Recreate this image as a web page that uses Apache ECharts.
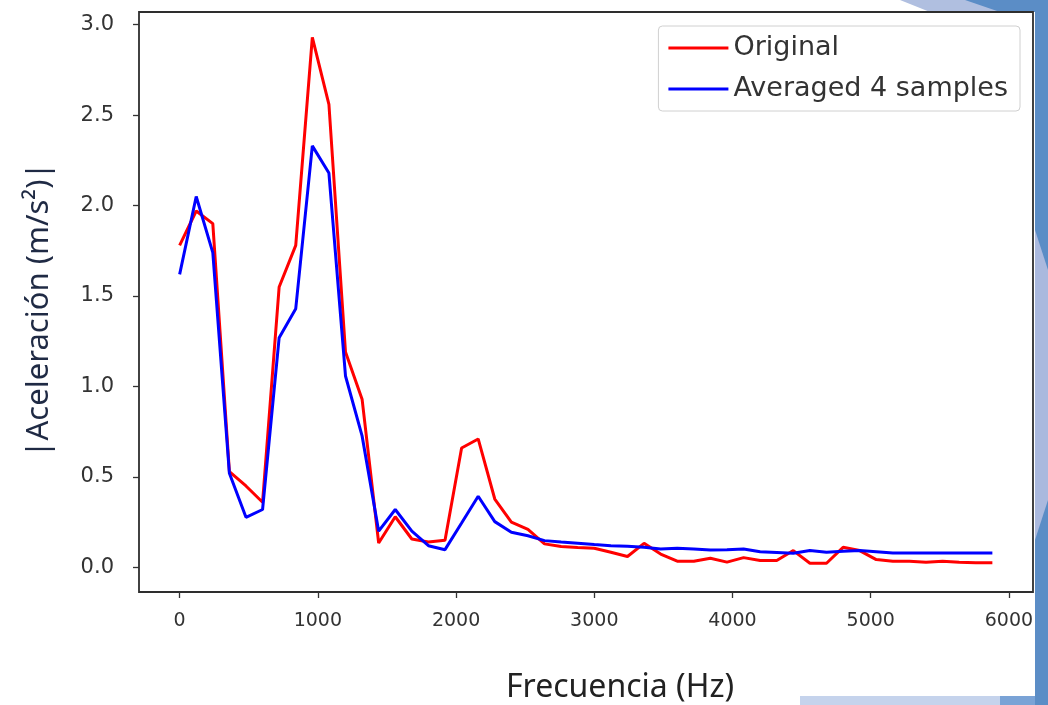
<!DOCTYPE html>
<html>
<head>
<meta charset="utf-8">
<script src="https://cdn.jsdelivr.net/npm/echarts@6/dist/echarts.min.js"></script>
<style>
html,body{margin:0;padding:0;background:#fff;}
#chart{width:1048px;height:705px;}
</style>
</head>
<body>
<div id="chart"></div>
<script>
// ---- data ----
const frequencies = [0,120,240,360,480,600,720,840,960,1080,1200,1320,1440,1560,1680,1800,1920,2040,2160,2280,2400,2520,2640,2760,2880,3000,3120,3240,3360,3480,3600,3720,3840,3960,4080,4200,4320,4440,4560,4680,4800,4920,5040,5160,5280,5400,5520,5640,5760,5880];
const original = [1.78,1.97,1.90,0.53,0.45,0.36,1.55,1.78,2.93,2.56,1.19,0.93,0.135,0.28,0.157,0.14,0.15,0.66,0.71,0.378,0.25,0.21,0.13,0.115,0.11,0.106,0.084,0.06,0.133,0.074,0.034,0.034,0.051,0.029,0.054,0.038,0.038,0.093,0.023,0.023,0.111,0.093,0.043,0.034,0.034,0.029,0.034,0.029,0.025,0.025];
const averaged = [1.62,2.05,1.74,0.52,0.277,0.32,1.27,1.43,2.33,2.18,1.058,0.727,0.20,0.32,0.20,0.12,0.098,0.245,0.393,0.253,0.194,0.175,0.148,0.14,0.133,0.126,0.12,0.117,0.111,0.102,0.106,0.102,0.096,0.098,0.102,0.087,0.083,0.078,0.093,0.084,0.089,0.093,0.087,0.08,0.08,0.08,0.08,0.08,0.08,0.08];
const xTicks = [0,1000,2000,3000,4000,5000,6000];
const yTicks = [0,0.5,1.0,1.5,2.0,2.5,3.0];
const seriesNames = ['Original','Averaged 4 samples'];
const xTitle = 'Frecuencia (Hz)';
const yTitle = '|Aceleración (m/s²)|';

const pairs = (xs, ys) => xs.map((x, i) => [x, ys[i]]);

const chart = echarts.init(document.getElementById('chart'), null, {renderer: 'canvas'});
const tickFont = "'DejaVu Sans', sans-serif";
const titleFont = "'Noto Sans', 'Open Sans', sans-serif";

chart.setOption({
  animation: false,
  backgroundColor: '#ffffff',
  graphic: [
    {type: 'polygon', silent: true, z: -10, shape: {points: [[900,0],[1048,0],[1048,12],[930,12]]}, style: {fill: '#b0bfe0'}},
    {type: 'polygon', silent: true, z: -9, shape: {points: [[965,0],[1048,0],[1048,12],[1000,12]]}, style: {fill: '#5b8dc6'}},
    {type: 'rect', silent: true, z: -10, shape: {x: 1035, y: 0, width: 13, height: 705}, style: {fill: '#5b8dc6'}},
    {type: 'polygon', silent: true, z: -9, shape: {points: [[1035,230],[1048,270],[1048,500],[1035,540]]}, style: {fill: '#aab9de'}},
    {type: 'rect', silent: true, z: -10, shape: {x: 800, y: 696, width: 235, height: 9}, style: {fill: '#c5d3ec'}},
    {type: 'rect', silent: true, z: -9, shape: {x: 1000, y: 696, width: 35, height: 9}, style: {fill: '#7aa3d6'}}
  ],
  grid: {
    left: 139, top: 12, width: 894, height: 580,
    outerBoundsMode: 'none', containLabel: false,
    show: true, borderColor: '#2e2e2e', borderWidth: 1.8, backgroundColor: '#ffffff'
  },
  legend: {
    data: seriesNames,
    orient: 'vertical',
    right: 28, top: 26,
    icon: 'rect',
    backgroundColor: '#ffffff',
    borderColor: '#d0d0d0', borderWidth: 1, borderRadius: 4,
    padding: [8, 12, 8, 10],
    itemWidth: 60, itemHeight: 3, itemGap: 13, itemTextGap: 20,
    textStyle: {fontFamily: tickFont, fontSize: 27, lineHeight: 28, color: '#333333'}
  },
  xAxis: {
    type: 'value', min: -294, max: 6174,
    name: xTitle, nameLocation: 'middle', nameGap: 80,
    nameTextStyle: {fontFamily: titleFont, fontSize: 32, color: '#222222', padding: [0, 0, 0, 68]},
    axisLine: {show: false, onZero: false},
    axisTick: {show: true, inside: false, length: 6, customValues: xTicks, lineStyle: {color: '#333333', width: 1.3}},
    axisLabel: {customValues: xTicks, margin: 20, fontFamily: tickFont, fontSize: 19, color: '#333333',
      formatter: v => String(v)},
    splitLine: {show: false}
  },
  yAxis: {
    type: 'value', min: -0.136, max: 3.07,
    name: yTitle, nameLocation: 'middle', nameGap: 84, nameRotate: 90,
    nameTextStyle: {fontFamily: titleFont, fontSize: 31, color: '#1f2a44', padding: [0, 16, 0, 0]},
    axisLine: {show: false, onZero: false},
    axisTick: {show: true, inside: false, length: 6, customValues: yTicks, lineStyle: {color: '#333333', width: 1.3}},
    axisLabel: {customValues: yTicks, margin: 25, fontFamily: tickFont, fontSize: 21, color: '#333333',
      formatter: v => v.toFixed(1)},
    splitLine: {show: false}
  },
  series: [
    {name: seriesNames[0], type: 'line', data: pairs(frequencies, original), symbol: 'none',
     lineStyle: {color: '#ff0000', width: 3}, itemStyle: {color: '#ff0000'}, z: 2},
    {name: seriesNames[1], type: 'line', data: pairs(frequencies, averaged), symbol: 'none',
     lineStyle: {color: '#0000ff', width: 3}, itemStyle: {color: '#0000ff'}, z: 3}
  ]
});
</script>
</body>
</html>
